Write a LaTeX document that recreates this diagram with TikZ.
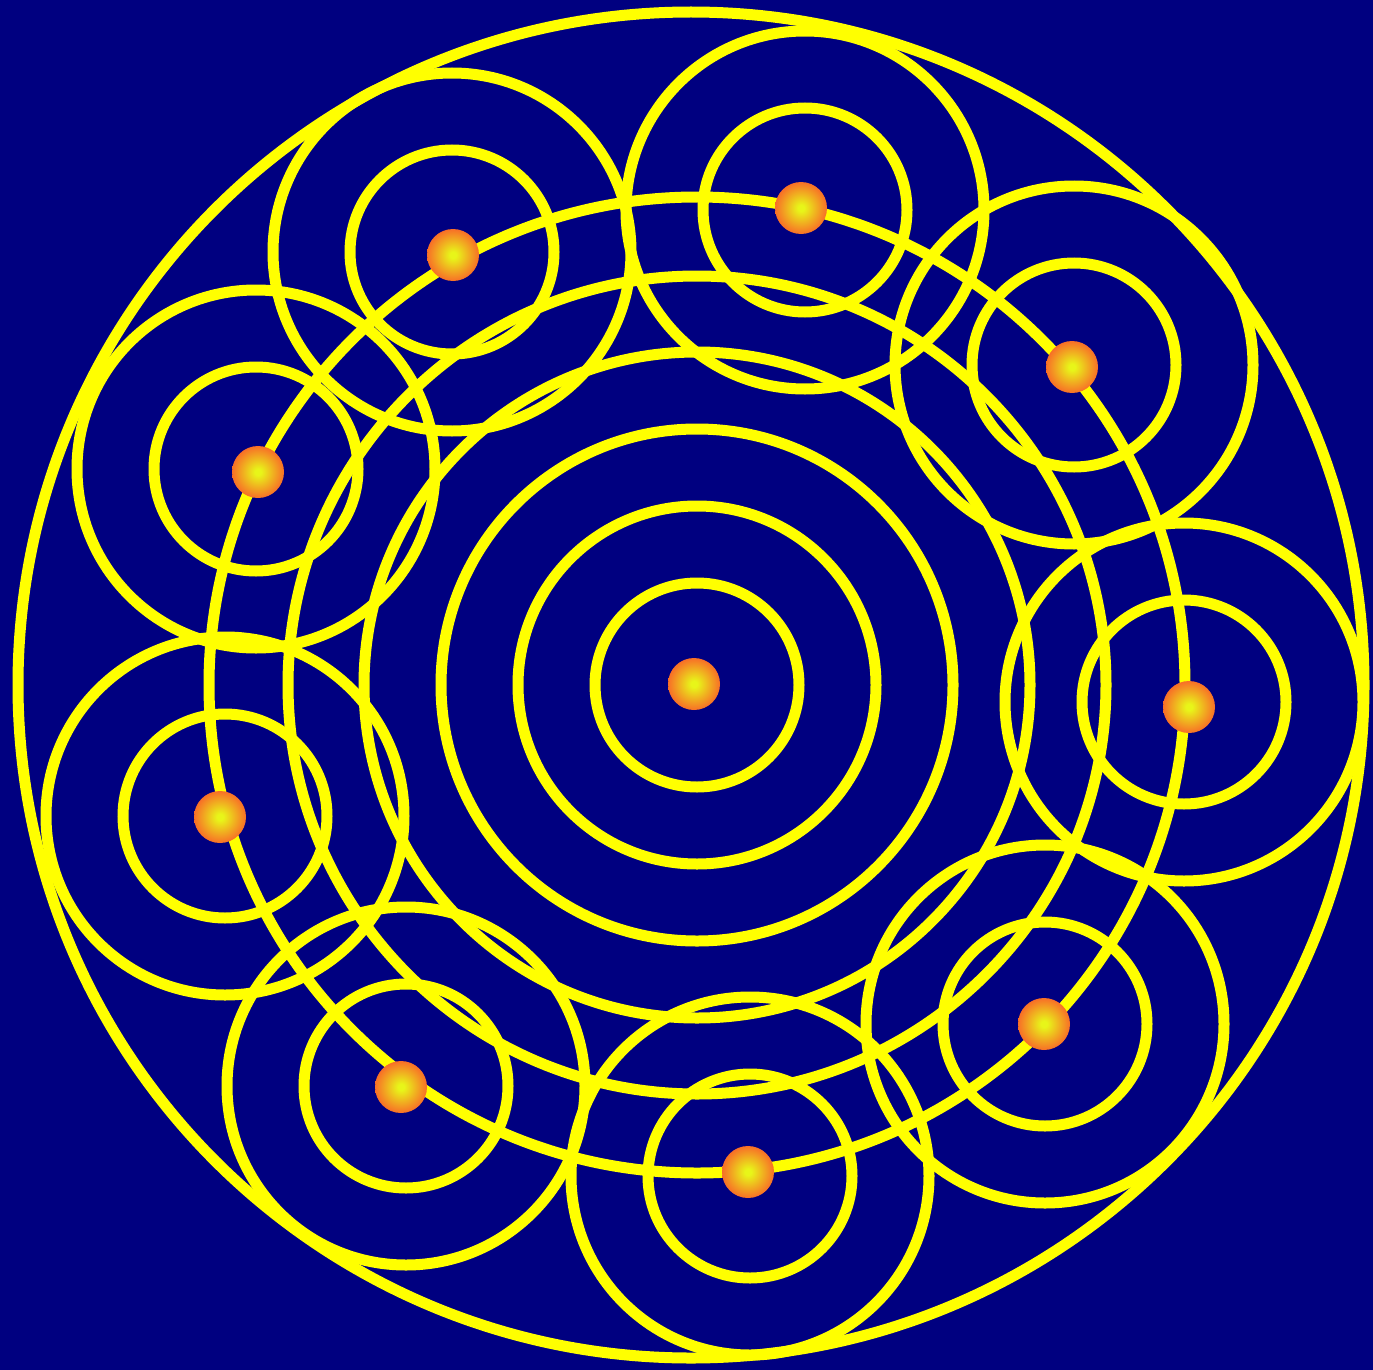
\documentclass[tikz,border=0pt]{standalone}
\definecolor{bgnavy}{RGB}{0,0,128}
\definecolor{ringyellow}{RGB}{255,255,0}
\definecolor{dotin}{RGB}{232,245,25}
\definecolor{dotout}{RGB}{255,50,45}
\pgfdeclareradialshading{dotball}{\pgfpoint{0bp}{0bp}}{color(0bp)=(dotin); color(3bp)=(dotin); color(35bp)=(dotout); color(50bp)=(dotout)}
\tikzset{
  ring/.style={draw=ringyellow, line width=11pt},
  ball/.style={shading=dotball}
}
\begin{document}
\begin{tikzpicture}[x=1pt,y=-1pt]
\fill[bgnavy] (0,0) rectangle (1373,1370);
\useasboundingbox (0,0) rectangle (1373,1370);
% outer circle
\coordinate (outerc) at (691,685);
\draw[ring] (outerc) circle (673);
% central concentric rings
\coordinate (cc) at (697,685);
\foreach \r in {102,179,256,333,409,488}
  \draw[ring] (cc) circle (\r);
% satellite ring pairs
\foreach \cx/\cy [count=\i] in {452/252, 805/210, 1074/365, 1184/702, 1045/1024, 750/1176, 406/1086, 225/816, 256/469}{
  \coordinate (s\i) at (\cx,\cy);
  \draw[ring] (s\i) circle (102);
  \draw[ring] (s\i) circle (179);
}
% dots
\foreach \dx/\dy [count=\i] in {694/684, 453/255, 801/208, 1072/367, 1189/707, 1044/1024, 748/1172, 401/1087, 220/817, 258/472}{
  \coordinate (d\i) at (\dx,\dy);
  \shade[ball] (d\i) circle (26);
}
\end{tikzpicture}
\end{document}
